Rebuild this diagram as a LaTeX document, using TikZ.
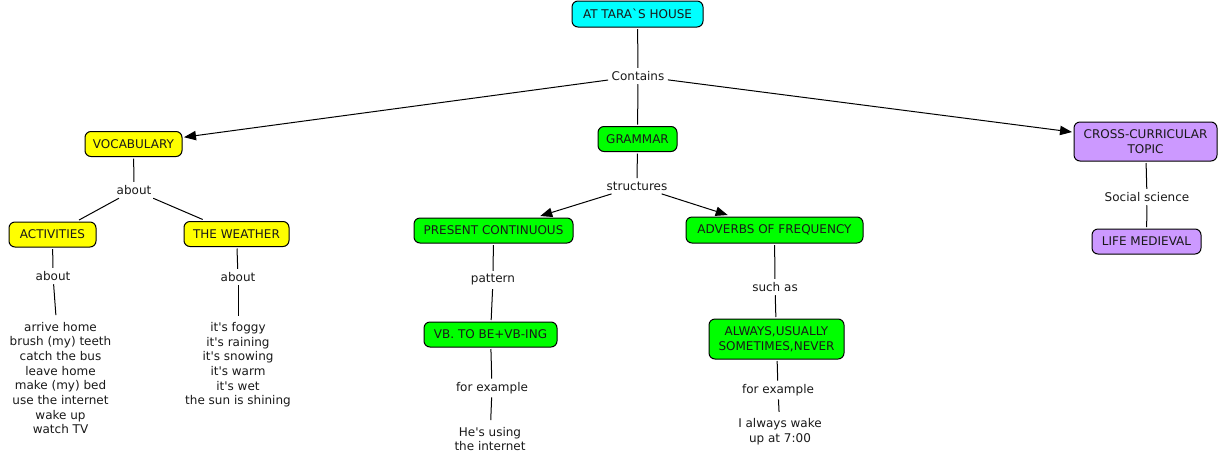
\documentclass[tikz,border=0pt]{standalone}
\usepackage{fontspec}
\setmainfont{DejaVu Sans}[Ligatures=TeXOff]
\usetikzlibrary{arrows.meta}
\definecolor{cyanbox}{RGB}{0,255,255}
\definecolor{yellowbox}{RGB}{255,255,0}
\definecolor{greenbox}{RGB}{0,255,0}
\definecolor{purplebox}{RGB}{204,153,255}
\definecolor{boxtext}{RGB}{25,25,25}
\tikzset{
  concept/.style={draw=black, line width=0.75pt, rounded corners=4.5pt, align=center,
    inner sep=1pt, outer sep=1.5pt, text=boxtext,
    font=\fontsize{9}{11}\selectfont, minimum height=18.75pt},
  linklabel/.style={inner sep=2.5pt, font=\fontsize{9}{11}\selectfont, align=center, text=boxtext},
  plaintext/.style={inner sep=5pt, font=\fontsize{9}{11}\selectfont, align=center, text=boxtext},
  conn/.style={line width=0.75pt},
  arr/.style={line width=0.75pt, -{Triangle[length=9pt,width=7pt]}},
}
\begin{document}
\begin{tikzpicture}[x=0.75pt,y=-0.75pt]
\useasboundingbox (0,0) rectangle (1219,461);
% concepts
\node[concept, fill=cyanbox, minimum width=98.25pt, minimum height=19.5pt] (title) at (637.5,14) {AT TARA`S HOUSE};
\node[concept, fill=greenbox, minimum width=59.25pt] (grammar) at (637.5,139) {GRAMMAR};
\node[concept, fill=yellowbox, minimum width=72.75pt] (vocab) at (133.5,144) {VOCABULARY};
\node[concept, fill=purplebox, minimum width=107.25pt, minimum height=29.25pt] (cross) at (1145.5,141.5) {CROSS-CURRICULAR\\TOPIC};
\node[concept, fill=yellowbox, minimum width=65.25pt] (activities) at (52.5,234.5) {ACTIVITIES};
\node[concept, fill=yellowbox, minimum width=78.75pt] (weather) at (236.5,234) {THE WEATHER};
\node[concept, fill=greenbox, minimum width=119.25pt] (prescont) at (493.5,230.5) {PRESENT CONTINUOUS};
\node[concept, fill=greenbox, minimum width=132.75pt, minimum height=19.5pt] (adverbs) at (774.5,230) {ADVERBS OF FREQUENCY};
\node[concept, fill=greenbox, minimum width=99.75pt] (vb) at (490.5,334.5) {VB. TO BE+VB-ING};
\node[concept, fill=greenbox, minimum width=101.25pt, minimum height=30pt] (always) at (776.5,339) {ALWAYS,USUALLY\\SOMETIMES,NEVER};
\node[concept, fill=purplebox, minimum width=81.75pt] (life) at (1146.5,241.5) {LIFE MEDIEVAL};
% link labels
\node[linklabel] (contains) at (638,76) {Contains};
\node[linklabel] (aboutv) at (134,190) {about};
\node[linklabel] (abouta) at (53,276) {about};
\node[linklabel] (aboutw) at (238,277) {about};
\node[linklabel] (structures) at (637,186) {structures};
\node[linklabel] (pattern) at (493,280) {pattern};
\node[linklabel] (forex1) at (492,388) {for example};
\node[linklabel] (suchas) at (775,287) {such as};
\node[linklabel] (forex2) at (778,390) {for example};
\node[linklabel] (social) at (1147,197) {Social science};
% plain texts
\node[plaintext] (actlist) at (60.5,378) {arrive home\\brush (my) teeth\\catch the bus\\leave home\\make (my) bed\\use the internet\\wake up\\watch TV};
\node[plaintext] (weatherlist) at (238,365) {it's foggy\\it's raining\\it's snowing\\it's warm\\it's wet\\the sun is shining};
\node[plaintext] (heusing) at (490,439) {He's using\\the internet};
\node[plaintext] (iwake) at (780,432) {I always wake\\up at 7:00};
% connectors
\draw[conn] (title) -- (contains);
\draw[arr] (contains) -- (vocab);
\draw[conn] (contains) -- (grammar);
\draw[arr] (contains) -- (cross);
\draw[conn] (vocab) -- (aboutv);
\draw[conn] (aboutv) -- (activities);
\draw[conn] (aboutv) -- (weather);
\draw[conn] (activities) -- (abouta);
\draw[conn] (abouta) -- (actlist);
\draw[conn] (weather) -- (aboutw);
\draw[conn] (aboutw) -- (weatherlist);
\draw[conn] (grammar) -- (structures);
\draw[arr] (structures) -- (prescont);
\draw[arr] (structures) -- (adverbs);
\draw[conn] (prescont) -- (pattern);
\draw[conn] (pattern) -- (vb);
\draw[conn] (vb) -- (forex1);
\draw[conn] (forex1) -- (heusing);
\draw[conn] (adverbs) -- (suchas);
\draw[conn] (suchas) -- (always);
\draw[conn] (always) -- (forex2);
\draw[conn] (forex2) -- (iwake);
\draw[conn] (cross) -- (social);
\draw[conn] (social) -- (life);
\end{tikzpicture}
\end{document}
